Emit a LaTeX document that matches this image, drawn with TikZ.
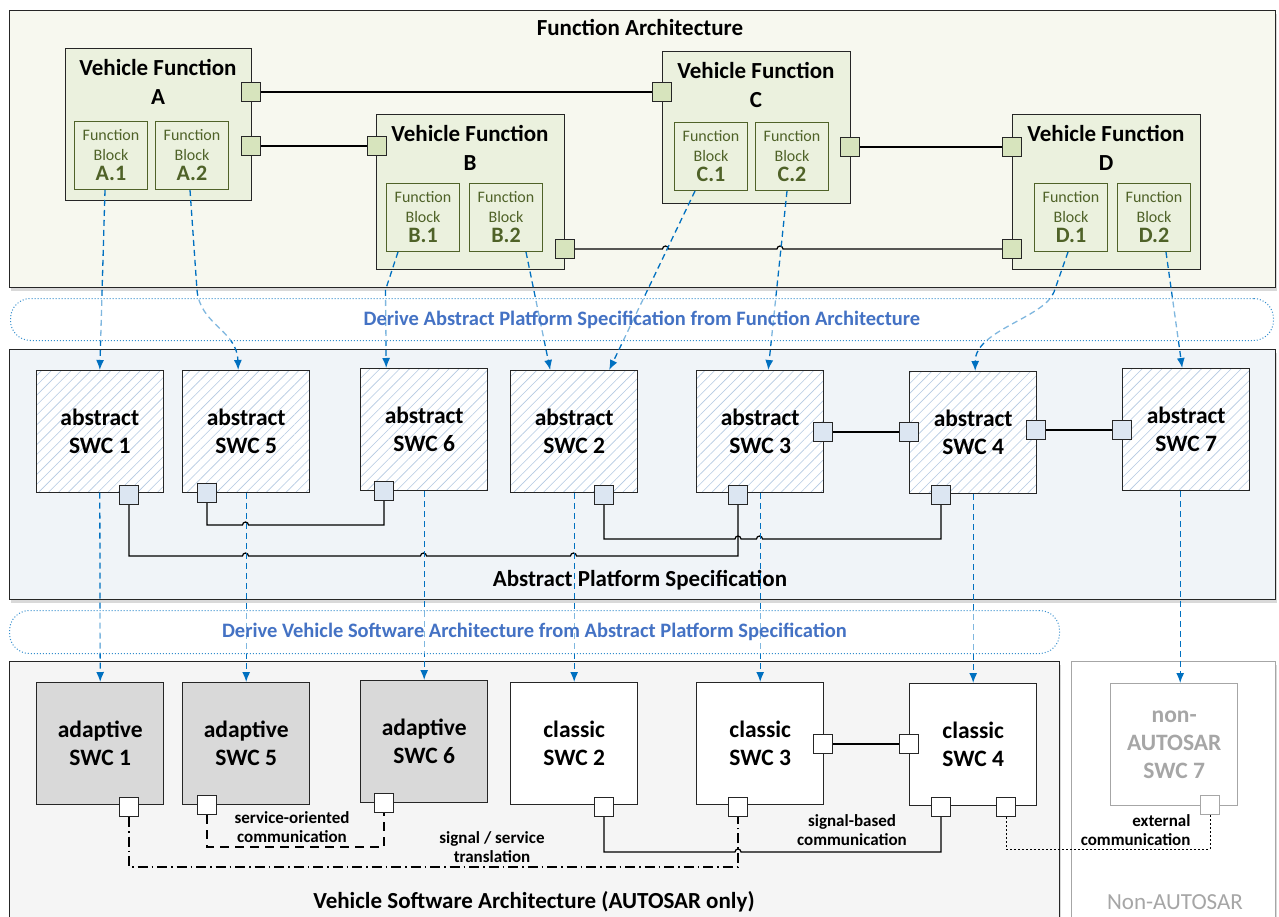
\documentclass[tikz,border=0pt]{standalone}
\usepackage{fontspec}
\setmainfont{Carlito}
\usetikzlibrary{arrows.meta,patterns.meta,shadows}
\definecolor{vfgreen}{HTML}{EBF1DE}
\definecolor{portgreen}{HTML}{D7E4BD}
\definecolor{fbolive}{HTML}{4F6228}
\definecolor{portblue}{HTML}{DCE6F2}
\definecolor{hatchblue}{HTML}{B4C9E2}
\definecolor{arrowblue}{HTML}{0070C0}
\definecolor{bandblue}{HTML}{4472C4}
\definecolor{adgray}{HTML}{D9D9D9}
\definecolor{nagray}{HTML}{A6A6A6}
\definecolor{fabg}{HTML}{F7F8EF}
\definecolor{apbg}{HTML}{F0F4F8}
\definecolor{vsbg}{HTML}{F5F5F5}

\begin{document}
\begin{tikzpicture}[
x=1pt, y=-1pt,
>={Latex[length=10pt,width=8pt]},
dims/.style 2 args={minimum width=#1pt, minimum height=#2pt},
layer/.style={
  draw=black!85,
  line width=1.4pt,
  anchor=north west,
  inner sep=0pt,
  drop shadow={shadow xshift=1pt, shadow yshift=-3pt, opacity=0.3}
  },
layertitle/.style={font=\fontsize{23}{26}\selectfont\bfseries},
vfun/.style={
  draw=black!85,
  fill=vfgreen,
  line width=1.4pt,
  anchor=north west,
  inner sep=0pt,
  dims={188}{155}
  },
vftitle/.style={align=center, font=\fontsize{23}{29}\selectfont\bfseries},
fblock/.style={
  draw=fbolive,
  fill=vfgreen,
  line width=1pt,
  anchor=north west,
  inner sep=0pt,
  dims={73}{68},
  align=center,
  text=fbolive,
  font=\fontsize{16}{20}\selectfont
  },
swc/.style={
  draw=black!85,
  line width=1.4pt,
  anchor=north west,
  inner sep=0pt,
  dims={127}{122},
  align=center,
  font=\fontsize{23.5}{28}\selectfont\bfseries
  },
aswc/.style={swc, preaction={fill=white},
  pattern={Lines[angle=45,distance=7pt,line width=0.6pt]}, pattern color=hatchblue},
adswc/.style={swc, fill=adgray},
clswc/.style={swc, fill=white},
port/.style={draw=black!85, line width=1.2pt, minimum size=19pt, inner sep=0pt},
fport/.style={port, fill=portgreen},
aport/.style={port, fill=portblue},
vport/.style={port, fill=white},
conn/.style={line width=1.2pt},
map/.style={draw=arrowblue, line width=1.3pt, dash pattern=on 6pt off 4pt, ->},
band/.style={
  draw=arrowblue!80,
  line width=1pt,
  dash pattern=on 1pt off 2pt,
  rounded corners=20pt,
  fill=white,
  fill opacity=0.5,
  text opacity=1,
  anchor=north west,
  inner sep=0pt,
  text=bandblue,
  font=\fontsize{20.5}{22}\selectfont\bfseries
  },
commlabel/.style={align=center, font=\fontsize{17}{19}\selectfont\bfseries}
]
\useasboundingbox (0,0) rectangle (1279,917);

% function architecture
\node[layer, fill=fabg, dims={1266}{277}] (fa) at (9,10) {};
\node[layertitle] (tFA) at (640,28) {Function Architecture};

\node[vfun, dims={186}{152}] (vfA) at (65,48) {};
\node[vftitle] (tA) at (158,82) {Vehicle Function\\A};
\node[fblock] (fbA1) at (74,121) {Function\\Block\\{\fontsize{22}{20}\selectfont\bfseries A.1}};
\node[fblock] (fbA2) at (155,121) {Function\\Block\\{\fontsize{22}{20}\selectfont\bfseries A.2}};

\node[vfun] (vfB) at (376,114) {};
\node[vftitle] (tB) at (470,148) {Vehicle Function\\B};
\node[fblock] (fbB1) at (386,183) {Function\\Block\\{\fontsize{22}{20}\selectfont\bfseries B.1}};
\node[fblock] (fbB2) at (469,183) {Function\\Block\\{\fontsize{22}{20}\selectfont\bfseries B.2}};

\node[vfun, dims={188}{152}] (vfC) at (662,51) {};
\node[vftitle] (tC) at (756,85) {Vehicle Function\\C};
\node[fblock] (fbC1) at (674,122) {Function\\Block\\{\fontsize{22}{20}\selectfont\bfseries C.1}};
\node[fblock] (fbC2) at (755,122) {Function\\Block\\{\fontsize{22}{20}\selectfont\bfseries C.2}};

\node[vfun] (vfD) at (1012,114) {};
\node[vftitle] (tD) at (1106,148) {Vehicle Function\\D};
\node[fblock] (fbD1) at (1034,183) {Function\\Block\\{\fontsize{22}{20}\selectfont\bfseries D.1}};
\node[fblock] (fbD2) at (1117,183) {Function\\Block\\{\fontsize{22}{20}\selectfont\bfseries D.2}};

\draw[conn] (251,92) -- (662,92);
\draw[conn] (251,146) -- (377,146);
\draw[conn] (850,147) -- (1012,147);
\draw[conn] (565,249) -- (662.5,249) arc[start angle=180,end angle=0,radius=3pt]
  -- (777,249) arc[start angle=180,end angle=0,radius=3pt] -- (1012,249);

\node[fport] (pA1) at (251,92) {};
\node[fport] (pA2) at (251,146) {};
\node[fport] (pB1) at (377,146) {};
\node[fport] (pB2) at (565,249) {};
\node[fport] (pC1) at (662,92) {};
\node[fport] (pC2) at (850,147) {};
\node[fport] (pD1) at (1012,147) {};
\node[fport] (pD2) at (1012,249) {};

% abstract platform specification
\node[layer, fill=apbg, dims={1266}{250}] (ap) at (9,349) {};
\node[layertitle] (tAP) at (640,580) {Abstract Platform Specification};

\node[aswc] (aS1) at (36,370) {abstract\\SWC 1};
\node[aswc] (aS5) at (182,370) {abstract\\SWC 5};
\node[aswc] (aS6) at (360,368) {abstract\\SWC 6};
\node[aswc] (aS2) at (510,370) {abstract\\SWC 2};
\node[aswc] (aS3) at (696,370) {abstract\\SWC 3};
\node[aswc] (aS4) at (909,371) {abstract\\SWC 4};
\node[aswc] (aS7) at (1122,368) {abstract\\SWC 7};

\node[aport] (qS1) at (129,495) {};
\node[aport] (qS5) at (207,493) {};
\node[aport] (qS6) at (384,491) {};
\node[aport] (qS2) at (604,495) {};
\node[aport] (qS3b) at (738,495) {};
\node[aport] (qS3r) at (823,432) {};
\node[aport] (qS4l) at (909,432) {};
\node[aport] (qS4r) at (1036,430) {};
\node[aport] (qS4b) at (941,495) {};
\node[aport] (qS7) at (1122,430) {};

\draw[conn] (qS5) -- (207,525) -- (242.5,525) arc[start angle=180,end angle=0,radius=3pt]
  -- (384,525) -- (qS6);
\draw[conn] (qS1) -- (129,556) -- (242.5,556) arc[start angle=180,end angle=0,radius=3pt]
  -- (420.5,556) arc[start angle=180,end angle=0,radius=3pt]
  -- (570.5,556) arc[start angle=180,end angle=0,radius=3pt] -- (738,556) -- (qS3b);
\draw[conn] (qS2) -- (604,539) -- (735,539) arc[start angle=180,end angle=0,radius=3pt]
  -- (756.5,539) arc[start angle=180,end angle=0,radius=3pt] -- (941,539) -- (qS4b);
\draw[conn] (qS3r) -- (qS4l);
\draw[conn] (qS4r) -- (qS7);

% vehicle software architecture
\node[layer, fill=vsbg, dims={1050}{270}] (vs) at (9,661) {};
\node[layer, draw=nagray, fill=white, dims={204}{270}] (na) at (1071,661) {};
\node[layertitle] (tVS) at (534,902) {Vehicle Software Architecture (AUTOSAR only)};
\node[layertitle, font=\fontsize{23}{26}\selectfont, text=nagray] (tNA) at (1175,902) {Non-AUTOSAR};

\node[adswc] (vS1) at (36,682) {adaptive\\SWC 1};
\node[adswc] (vS5) at (182,682) {adaptive\\SWC 5};
\node[adswc] (vS6) at (360,680) {adaptive\\SWC 6};
\node[clswc] (vS2) at (510,682) {classic\\SWC 2};
\node[clswc] (vS3) at (696,682) {classic\\SWC 3};
\node[clswc] (vS4) at (909,683) {classic\\SWC 4};
\node[clswc, draw=nagray, text=nagray] (vS7) at (1110,683) {non-\\AUTOSAR\\SWC 7};

\node[vport] (rS1) at (129,807) {};
\node[vport] (rS5) at (207,805) {};
\node[vport] (rS6) at (384,803) {};
\node[vport] (rS2) at (604,807) {};
\node[vport] (rS3b) at (738,807) {};
\node[vport] (rS3r) at (823,744) {};
\node[vport] (rS4l) at (909,744) {};
\node[vport] (rS4b) at (941,807) {};
\node[vport] (rS4c) at (1006,807) {};
\node[vport, draw=nagray] (rS7) at (1210,805) {};

\draw[conn, dash pattern=on 9pt off 6pt] (rS5) -- (207,847) -- (384,847) -- (rS6);
\draw[conn, dash pattern=on 10pt off 4pt on 1.5pt off 4pt] (rS1) -- (129,867) -- (738,867) -- (rS3b);
\draw[conn] (rS2) -- (604,852) -- (735,852) arc[start angle=180,end angle=0,radius=3pt]
  -- (941,852) -- (rS4b);
\draw[conn] (rS3r) -- (rS4l);
\draw[line width=1pt, dash pattern=on 1.5pt off 2.5pt] (rS4c) -- (1006,849) -- (1210,849) -- (rS7);

\node[commlabel] (nSO) at (292,827) {service-oriented\\communication};
\node[commlabel] (nST) at (492,847) {signal / service\\translation};
\node[commlabel] (nSB) at (852,830) {signal-based\\communication};
\node[commlabel, anchor=east, align=right] (nEC) at (1194,830) {external\\communication};

% derivation arrows
\draw[map] ([xshift=-6pt]fbA1.south) -- (aS1.north);
\draw[map] ([xshift=-2pt]fbA2.south) -- (197,290) .. controls (200,325) and (237,330) .. ([xshift=-8pt]aS5.north);
\draw[map] ([xshift=-25pt]fbB1.south) -- (385.5,290) -- ([xshift=-38pt]aS6.north);
\draw[map] ([xshift=20pt]fbB2.south) -- ([xshift=-24pt]aS2.north);
\draw[map] ([xshift=-16pt]fbC1.south) -- ([xshift=35pt]aS2.north);
\draw[map] ([xshift=-5pt]fbC2.south) -- ([xshift=8pt]aS3.north);
\draw[map] ([xshift=-3pt]fbD1.south) -- (1054,292) .. controls (1044,318) and (975,330) .. ([xshift=2pt]aS4.north);
\draw[map] ([xshift=12pt]fbD2.south) -- ([xshift=-4pt]aS7.north);
\foreach \n in {1,5,6,2,3,4}
  \draw[map] (aS\n.south) -- (vS\n.north);
\draw[map] ([xshift=-6pt]aS7.south) -- ([xshift=6pt]vS7.north);

\node[band, dims={1263}{42}] (d1) at (10,298) {Derive Abstract Platform Specification from Function Architecture};
\node[band, dims={1050}{43}] (d2) at (9,610) {Derive Vehicle Software Architecture from Abstract Platform Specification};

\end{tikzpicture}
\end{document}
